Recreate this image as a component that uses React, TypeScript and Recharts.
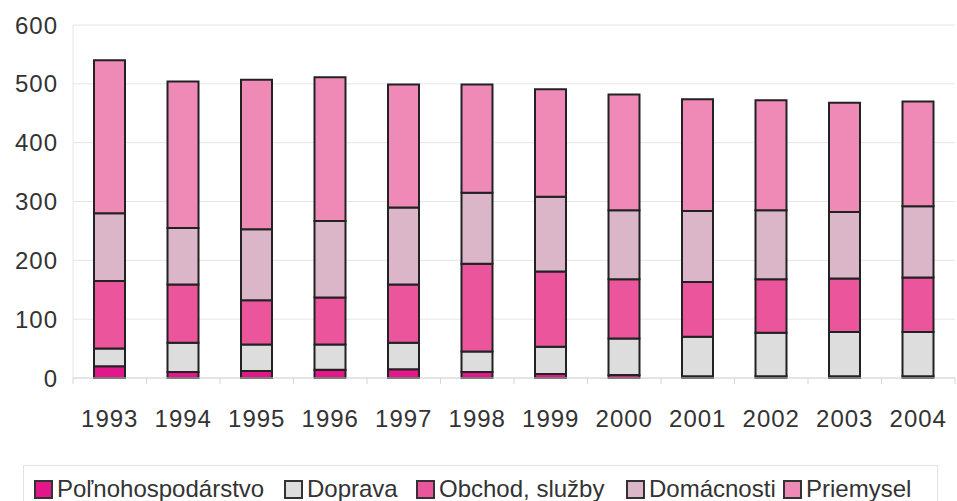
import { BarChart, Bar, XAxis, YAxis, CartesianGrid } from 'recharts'

const years = ['1993', '1994', '1995', '1996', '1997', '1998', '1999', '2000', '2001', '2002', '2003', '2004']

const polnohospodarstvo = [20, 10, 12, 14, 15, 10, 7, 5, 3, 3, 3, 3]
const doprava = [30, 50, 45, 43, 45, 35, 46, 62, 67, 74, 75, 75]
const obchodSluzby = [115, 99, 75, 80, 99, 149, 128, 101, 93, 91, 91, 93]
const domacnosti = [115, 96, 121, 130, 131, 121, 127, 117, 121, 117, 113, 121]
const priemysel = [260, 249, 254, 244, 209, 184, 183, 197, 190, 187, 186, 178]

const yTicks = [0, 100, 200, 300, 400, 500, 600]

const series = [
  { key: 'pol', name: 'Poľnohospodárstvo', color: '#e3168a', values: polnohospodarstvo },
  { key: 'dop', name: 'Doprava', color: '#dddddd', values: doprava },
  { key: 'obc', name: 'Obchod, služby', color: '#ea559c', values: obchodSluzby },
  { key: 'dom', name: 'Domácnosti', color: '#dbb6c9', values: domacnosti },
  { key: 'pri', name: 'Priemysel', color: '#ef8ab6', values: priemysel },
]

const data = years.map((year, i) => {
  const row: Record<string, string | number> = { year }
  series.forEach(s => { row[s.key] = s.values[i] })
  return row
})

const FONT = '"Liberation Sans", Arial, Helvetica, sans-serif'
const CHART_W = 957
const CHART_H = 460
const Y_AXIS_W = 73
const RIGHT = 2
const BAND = (CHART_W - Y_AXIS_W - RIGHT) / years.length
const legendLefts = [10, 260, 392, 602, 759]

function YearTick(props: any) {
  const { x, y, payload, index } = props
  return (
    <g>
      <line x1={x - BAND / 2} x2={x - BAND / 2} y1={y} y2={y + 6} stroke="#d6d6d6" />
      {index === years.length - 1 && (
        <line x1={x + BAND / 2} x2={x + BAND / 2} y1={y} y2={y + 6} stroke="#d6d6d6" />
      )}
      <text x={x} y={y + 49} textAnchor="middle" fill="#333333" fontSize={24} fontFamily={FONT} letterSpacing={1}>
        {payload.value}
      </text>
    </g>
  )
}

export default function App() {
  return (
    <div style={{ position: 'absolute', top: 0, left: 0, width: 957, height: 501, background: '#ffffff', overflow: 'hidden' }}>
      <BarChart width={CHART_W} height={CHART_H} data={data} margin={{ top: 25, right: RIGHT, left: 0, bottom: 0 }}>
        <CartesianGrid vertical={false} stroke="#e6e6e6" />
        <XAxis
          dataKey="year"
          height={CHART_H - 378}
          axisLine={{ stroke: '#d6d6d6' }}
          tickLine={false}
          tickSize={0}
          tickMargin={0}
          interval={0}
          tick={<YearTick />}
        />
        <YAxis
          width={Y_AXIS_W}
          domain={[0, 600]}
          ticks={yTicks}
          axisLine={{ stroke: '#e6e6e6' }}
          tickLine={false}
          tickSize={0}
          tickMargin={15}
          tick={{ fill: '#333333', fontSize: 24, fontFamily: FONT, letterSpacing: 1 }}
        />
        {series.map(s => (
          <Bar
            key={s.key}
            dataKey={s.key}
            name={s.name}
            stackId="a"
            fill={s.color}
            stroke="#222222"
            strokeWidth={2}
            barSize={31}
            isAnimationActive={false}
          />
        ))}
      </BarChart>
      <div
        style={{
          position: 'absolute',
          top: 465,
          left: 23,
          width: 915,
          height: 50,
          border: '1px solid #e2e2e2',
          boxSizing: 'border-box',
          fontFamily: FONT,
          fontSize: 24,
          color: '#333333',
          whiteSpace: 'nowrap',
        }}
      >
        {series.map((s, i) => (
          <span
            key={s.key}
            style={{ position: 'absolute', left: legendLefts[i], top: 11, display: 'flex', alignItems: 'center' }}
          >
            <span
              style={{
                display: 'inline-block',
                width: 19,
                height: 19,
                background: s.color,
                border: '2px solid #333333',
                boxSizing: 'border-box',
                marginRight: 4,
              }}
            />
            <span style={{ lineHeight: '24px' }}>{s.name}</span>
          </span>
        ))}
      </div>
    </div>
  )
}
